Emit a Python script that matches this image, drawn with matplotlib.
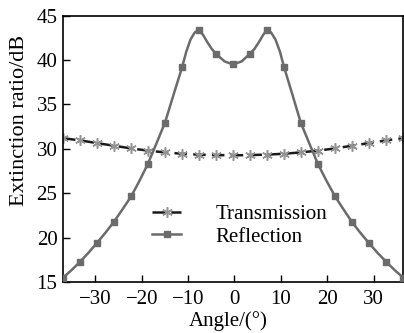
import matplotlib.pyplot as plt
from matplotlib.lines import Line2D

plt.rcParams['font.family'] = ['Liberation Serif', 'DejaVu Serif']

# incidence angle of the sampled points
angle = [-37.0, -33.3, -29.7, -26.0, -22.3, -18.7, -15.0, -11.3, -7.7, -4.0, -0.3,
         3.3, 7.0, 10.7, 14.3, 18.0, 21.7, 25.3, 29.0, 32.7, 36.4]

transmission = [31.2, 30.95, 30.65, 30.35, 30.05, 29.8, 29.6, 29.45, 29.35, 29.3, 29.27,
                29.3, 29.35, 29.45, 29.6, 29.8, 30.05, 30.35, 30.65, 30.95, 31.2]

reflection = [15.5, 17.3, 19.4, 21.8, 24.65, 28.3, 32.95, 39.2, 43.4, 40.7, 39.5,
              40.7, 43.4, 39.2, 32.95, 28.3, 24.65, 21.8, 19.4, 17.3, 15.5]

# denser reflection curve
refl_angle = [-37.0, -35.15, -33.3, -31.5, -29.7, -27.85, -26.0, -24.15, -22.3, -20.5,
              -18.7, -16.85, -15.0, -13.15, -11.3, -10.4, -9.5, -8.6, -7.7, -6.8,
              -5.85, -4.9, -4.0, -2.15, -0.3, 1.55, 3.3, 4.3, 5.25, 6.2,
              7.0, 7.9, 8.85, 9.8, 10.7, 12.5, 14.3, 16.15, 18.0, 19.85,
              21.7, 23.5, 25.3, 27.15, 29.0, 30.85, 32.7, 34.55, 36.4]
refl_curve = [15.5, 16.35, 17.3, 18.3, 19.4, 20.55, 21.8, 23.2, 24.65, 26.4,
              28.3, 30.6, 32.95, 36.1, 39.2, 40.95, 42.3, 43.1, 43.4, 42.85,
              42.0, 41.25, 40.7, 39.85, 39.5, 39.85, 40.7, 41.25, 42.0, 42.85,
              43.4, 43.1, 42.3, 40.95, 39.2, 36.1, 32.95, 30.6, 28.3, 26.4,
              24.65, 23.2, 21.8, 20.55, 19.4, 18.3, 17.3, 16.35, 15.5]

xticks = [-30, -20, -10, 0, 10, 20, 30]
yticks = [15, 20, 25, 30, 35, 40, 45]

gray = '#6b6b6b'
star = (6, 2, 0)

fig = plt.figure(figsize=(4.04, 3.33), dpi=100)
ax = fig.add_axes([0.156, 0.153, 0.842, 0.8])

ax.plot(refl_angle, refl_curve, color=gray, lw=1.8, zorder=3)
ax.plot(angle, reflection, ls='none', marker='s', ms=5, color=gray, zorder=4)
ax.plot(angle, transmission, color='#1a1a1a', lw=1.8, ls=(0, (5, 2.5)), zorder=2)
ax.plot(angle, transmission, ls='none', marker=star, ms=7.5, mew=1.1, color='#939393', zorder=2)

ax.set_xlim(-37.0, 36.4)
ax.set_ylim(15, 45)
ax.set_xticks(xticks)
ax.set_yticks(yticks)
ax.set_xticklabels(['\u2212%d' % -t if t < 0 else str(t) for t in xticks])
ax.tick_params(direction='in', length=5, width=1, labelsize=15, pad=6)
ax.tick_params(axis='y', pad=4)
for s in ax.spines.values():
    s.set_linewidth(1.2)

ax.set_xlabel('Angle/(°)', fontsize=15)
ax.set_ylabel('Extinction ratio/dB', fontsize=16)
ax.xaxis.set_label_coords(0.485, -0.148)
ax.yaxis.set_label_coords(-0.128, 0.608)
ax.xaxis.label.set_va('center')
ax.yaxis.label.set_va('center')

handles = [
    Line2D([], [], color='#1a1a1a', lw=1.8, ls=(0, (5, 2.5)), marker=star, ms=7.5,
           mew=1.1, mec='#939393'),
    Line2D([], [], color=gray, lw=1.8, marker='s', ms=5),
]
ax.legend(handles, ['Transmission', 'Reflection'], loc='center left',
          bbox_to_anchor=(0.262, 0.212), frameon=False, fontsize=15,
          numpoints=1, handlelength=1.4, handletextpad=1.65, labelspacing=0.15,
          borderpad=0, borderaxespad=0)

fig.savefig('out.png', dpi=100)
